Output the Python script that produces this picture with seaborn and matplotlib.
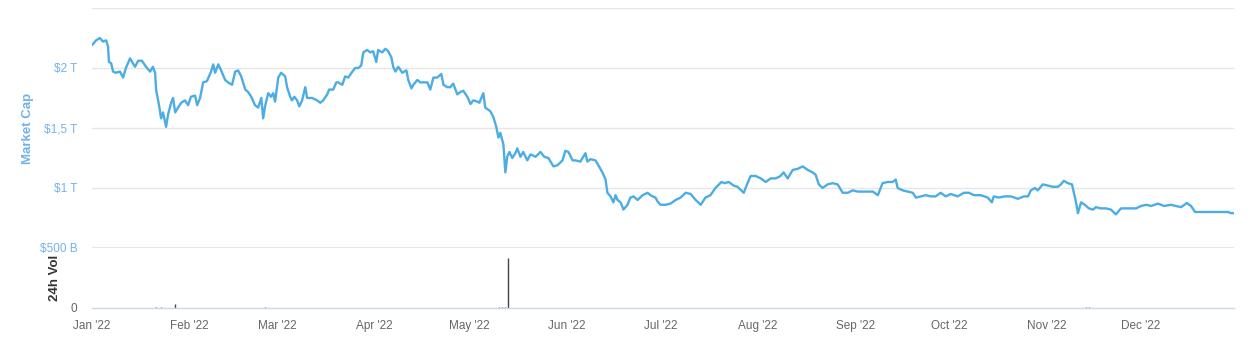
import pandas as pd
import numpy as np
import matplotlib.pyplot as plt
import matplotlib.dates as mdates
import seaborn as sns

# --- data (day offset from 1 Jan 2022, market cap in $T) ---
cap_days = [0.0, 1.3, 2.5, 3.5, 4.5, 5.1, 5.4, 6.1, 6.7, 7.6, 8.9, 9.9, 10.8, 12.1, 13.7, 14.7,
            15.9, 17.2, 18.5, 19.4, 20.1, 20.4, 21.4, 22.0, 22.6, 23.6, 24.2, 25.2, 25.8, 26.5,
            27.4, 28.4, 29.6, 30.6, 31.5, 32.8, 33.5, 34.4, 35.4, 36.6, 37.9, 38.6, 39.2, 40.2,
            41.1, 42.4, 43.3, 44.6, 45.6, 46.5, 47.5, 48.8, 49.7, 50.7, 51.9, 52.9, 53.9, 54.5,
            55.1, 56.1, 57.0, 57.7, 58.3, 59.3, 60.2, 61.5, 62.1, 63.1, 63.7, 64.4, 65.3, 66.0,
            66.9, 67.9, 68.5, 70.1, 71.7, 72.7, 73.6, 74.9, 75.5, 76.8, 77.8, 78.4, 79.7, 80.6,
            81.6, 82.9, 83.8, 84.8, 85.7, 86.4, 87.6, 88.6, 89.5, 90.5, 91.1, 92.4, 93.4, 94.3,
            95.3, 95.9, 96.6, 97.5, 98.8, 100.1, 100.7, 101.7, 102.3, 103.6, 104.5, 105.5, 106.8,
            107.7, 108.7, 109.9, 111.2, 111.9, 113.1, 114.1, 115.0, 116.3, 117.3, 118.2, 119.5,
            120.5, 121.4, 122.7, 123.3, 124.6, 125.2, 126.8, 127.8, 128.7, 129.4, 130.0, 131.0,
            131.6, 132.2, 132.9, 133.8, 134.8, 135.4, 136.4, 137.3, 138.6, 139.6, 141.2, 142.8,
            144.0, 145.3, 146.9, 148.2, 149.8, 150.7, 151.7, 153.0, 153.9, 155.5, 157.1, 157.7,
            158.7, 160.3, 161.2, 162.5, 163.5, 164.1, 165.1, 166.0, 166.7, 167.3, 168.3, 169.2,
            170.5, 171.4, 172.4, 173.7, 175.3, 176.9, 177.8, 178.5, 179.4, 180.0, 181.0, 182.6,
            184.2, 185.8, 187.4, 189.0, 190.6, 192.2, 193.8, 195.3, 196.9, 198.5, 200.4, 201.4,
            202.7, 204.3, 205.5, 207.5, 208.7, 209.7, 211.3, 212.9, 214.5, 216.1, 217.7, 219.2,
            220.2, 221.5, 223.1, 224.7, 226.3, 227.9, 229.4, 230.4, 231.4, 232.6, 234.2, 235.8,
            237.4, 239.0, 240.6, 242.2, 243.8, 245.4, 247.0, 248.6, 250.2, 251.7, 253.3, 254.9,
            255.9, 256.5, 258.1, 259.7, 261.3, 262.3, 263.9, 265.5, 267.0, 268.6, 270.2, 271.8,
            273.4, 275.6, 277.6, 279.2, 280.8, 283.0, 285.2, 286.5, 287.1, 288.7, 290.6, 292.5,
            294.8, 296.7, 298.0, 298.9, 300.2, 301.1, 302.7, 304.3, 305.9, 307.5, 308.5, 309.4,
            310.7, 312.0, 312.6, 313.3, 313.9, 314.9, 316.1, 317.4, 318.7, 319.6, 321.2, 322.8,
            324.4, 326.0, 327.6, 329.2, 330.8, 332.4, 334.0, 335.6, 337.2, 339.4, 341.3, 343.5,
            345.1, 346.7, 348.6, 349.9, 351.2, 353.1, 355.3, 357.2, 359.5, 361.7, 362.6, 363.6]
cap_values = [2.19, 2.23, 2.25, 2.22, 2.23, 2.18, 2.05, 2.04, 1.97, 1.96, 1.97, 1.92, 2.00, 2.08, 2.01, 2.06,
              2.06, 2.01, 1.97, 2.01, 1.96, 1.82, 1.68, 1.58, 1.63, 1.51, 1.61, 1.71, 1.75, 1.63,
              1.67, 1.71, 1.73, 1.69, 1.76, 1.77, 1.69, 1.75, 1.88, 1.89, 1.97, 2.03, 1.96, 2.03,
              1.98, 1.90, 1.88, 1.86, 1.97, 1.98, 1.93, 1.82, 1.80, 1.76, 1.69, 1.67, 1.75, 1.58,
              1.68, 1.79, 1.76, 1.79, 1.72, 1.92, 1.96, 1.93, 1.84, 1.76, 1.73, 1.76, 1.73, 1.68,
              1.73, 1.84, 1.75, 1.75, 1.73, 1.71, 1.73, 1.78, 1.82, 1.82, 1.88, 1.88, 1.86, 1.93,
              1.92, 1.97, 2.00, 2.00, 2.02, 2.13, 2.15, 2.13, 2.14, 2.05, 2.15, 2.13, 2.16, 2.14,
              2.09, 2.01, 1.97, 2.01, 1.96, 1.98, 1.90, 1.83, 1.86, 1.90, 1.88, 1.88, 1.88,
              1.82, 1.92, 1.92, 1.95, 1.86, 1.84, 1.84, 1.87, 1.78, 1.80, 1.81, 1.76,
              1.70, 1.73, 1.72, 1.71, 1.79, 1.67, 1.64, 1.59, 1.51, 1.42, 1.46, 1.36,
              1.13, 1.26, 1.30, 1.25, 1.29, 1.33, 1.26, 1.30, 1.23, 1.28, 1.26, 1.30,
              1.26, 1.25, 1.18, 1.19, 1.23, 1.31, 1.30, 1.23, 1.23, 1.22, 1.29, 1.22,
              1.24, 1.23, 1.19, 1.13, 1.07, 0.96, 0.93, 0.88, 0.94, 0.90, 0.88, 0.82,
              0.86, 0.92, 0.93, 0.90, 0.94, 0.96, 0.94, 0.93, 0.92, 0.89, 0.86, 0.86,
              0.87, 0.90, 0.92, 0.96, 0.95, 0.90, 0.86, 0.92, 0.94, 1.00, 1.05, 1.04,
              1.05, 1.02, 1.01, 0.96, 1.04, 1.10, 1.10, 1.08, 1.05, 1.08, 1.08, 1.10,
              1.13, 1.08, 1.15, 1.16, 1.18, 1.15, 1.13, 1.11, 1.03, 1.00, 1.03, 1.04,
              1.03, 0.96, 0.96, 0.98, 0.97, 0.97, 0.97, 0.97, 0.94, 1.04, 1.05, 1.05,
              1.07, 1.00, 0.98, 0.97, 0.96, 0.92, 0.93, 0.94, 0.93, 0.93, 0.96, 0.93,
              0.95, 0.93, 0.96, 0.96, 0.94, 0.94, 0.92, 0.88, 0.93, 0.92, 0.93, 0.93,
              0.91, 0.93, 0.93, 0.98, 1.00, 0.98, 1.03, 1.02, 1.01, 1.01, 1.03, 1.06,
              1.04, 1.03, 0.96, 0.88, 0.79, 0.88, 0.86, 0.83, 0.82, 0.84, 0.83, 0.83,
              0.82, 0.78, 0.83, 0.83, 0.83, 0.83, 0.85, 0.86, 0.85, 0.87, 0.85, 0.86,
              0.85, 0.84, 0.875, 0.85, 0.80, 0.80, 0.80, 0.80, 0.80, 0.80, 0.79, 0.79]

# 24h volume (billions), only a few visible bars
vol_days = [20.4, 22.0, 26.5, 55.1, 129.5, 130.5, 131.5, 132.6, 165.1, 289.0, 316.5, 317.5]
vol_values = [5, 5, 33, 5, 6, 6, 6, 420, 4, 4, 12, 12]

cap_ticks = [0.5, 1.0, 1.5, 2.0, 2.5]
cap_tick_labels = ['$500 B', '$1 T', '$1,5 T', '$2 T', '']

start = pd.Timestamp('2022-01-01')
df = pd.DataFrame({'date': start + pd.to_timedelta(cap_days, unit='D'), 'cap': cap_values})
dv = pd.DataFrame({'date': start + pd.to_timedelta(vol_days, unit='D'), 'vol': vol_values})

sns.set_style('white')
plt.rcParams['font.family'] = ['Liberation Sans', 'DejaVu Sans']

line_col = '#4badE4'
label_blue = '#72b2ea'
grid_col = '#e6e6e6'
axis_col = '#ccd6eb'

fig = plt.figure(figsize=(12.55, 3.53), dpi=100)
ax = fig.add_axes([0.0733, 0.2975, 0.9100, 0.6799])
axv = fig.add_axes([0.0733, 0.1275, 0.9100, 0.1700], sharex=ax)

# market cap line
sns.lineplot(data=df, x='date', y='cap', ax=ax, color=line_col, linewidth=1.7)
ax.set_ylim(0.5, 2.5)
ax.set_yticks(cap_ticks)
ax.set_yticklabels(cap_tick_labels, color=label_blue, fontsize=8.5)
ax.tick_params(axis='y', length=0, pad=10.5)
ax.tick_params(axis='x', bottom=False, labelbottom=False)
for v in cap_ticks:
    ax.axhline(v, color=grid_col, lw=2.2 if v == 0.5 else 1.0, zorder=0)
for s in ax.spines.values():
    s.set_visible(False)
ax.set_xlabel('')
ax.set_ylabel('Market Cap', color=label_blue, fontsize=9.5, fontweight='bold')
ax.yaxis.set_label_coords(-0.051, 0.5)

# volume bars
axv.vlines(dv['date'], 0, dv['vol'], color='#444444', linewidth=1.0)
axv.set_ylim(0, 500)
axv.set_yticks([0])
axv.set_yticklabels(['0'], color='#666666', fontsize=8.5)
axv.tick_params(axis='y', length=0, pad=10.5)
for s in ['top', 'right', 'left']:
    axv.spines[s].set_visible(False)
axv.spines['bottom'].set_color(axis_col)
axv.spines['bottom'].set_linewidth(1.0)
axv.set_ylabel('24h Vol', color='#333333', fontsize=9.5, fontweight='bold')
axv.yaxis.set_label_coords(-0.0275, 0.5)

axv.set_xlim(start, df['date'].iloc[-1])
axv.xaxis.set_major_locator(mdates.MonthLocator())
axv.xaxis.set_major_formatter(mdates.DateFormatter("%b '%y"))
axv.tick_params(axis='x', direction='out', length=7, color=axis_col, labelcolor='#666666',
                labelsize=8.5, pad=2)
axv.set_xlabel('')

fig.savefig('out.png', dpi=100)
